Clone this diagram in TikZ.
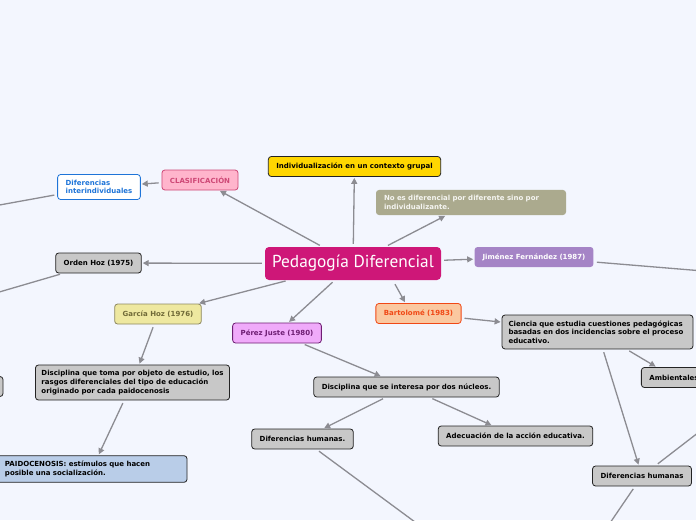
\documentclass[tikz,border=0pt]{standalone}
\usepackage{fontspec}
\setmainfont{DejaVu Sans}
\newfontfamily\titlefont{PT Sans}
\usetikzlibrary{arrows.meta, calc}
\definecolor{mapbg}{RGB}{243,246,254}
\definecolor{mapmag}{RGB}{206,23,120}
\definecolor{mapgray}{RGB}{200,200,200}
\definecolor{mapline}{RGB}{35,35,35}
\definecolor{maparr}{RGB}{140,140,146}
\definecolor{mapyel}{RGB}{255,214,0}
\definecolor{mapolive}{RGB}{171,170,142}
\definecolor{mappurple}{RGB}{165,132,198}
\definecolor{mappink}{RGB}{255,181,204}
\definecolor{mappinkdk}{RGB}{206,72,118}
\definecolor{mapblue}{RGB}{30,116,216}
\definecolor{mapsand}{RGB}{238,232,160}
\definecolor{mapsanddk}{RGB}{112,106,56}
\definecolor{mapviolet}{RGB}{240,170,250}
\definecolor{mapvioletdk}{RGB}{110,30,115}
\definecolor{mappeach}{RGB}{250,200,160}
\definecolor{maporange}{RGB}{240,72,22}
\definecolor{mapsky}{RGB}{185,205,232}
\tikzset{
  bx/.style={rounded corners=3pt, inner xsep=8pt, inner ysep=5.5pt,
             minimum height=20pt, line width=0.8pt, align=left,
             font=\bfseries\fontsize{7}{8.6}\selectfont},
  bxG/.style={bx, draw=mapline, fill=mapgray},
  bxT/.style={rounded corners=4pt, fill=mapmag, text=white,
              minimum width=176pt, minimum height=33pt, inner sep=0pt,
              font=\titlefont\fontsize{17.3}{20}\selectfont},
  arr/.style={-{Triangle[length=6pt, width=6pt]}, draw=maparr,
              line width=1.3pt, shorten <=3pt, shorten >=1pt},
  tail/.style={draw=maparr, line width=1.3pt, shorten <=3pt},
}
\begin{document}
\begin{tikzpicture}[x=1pt, y=-1pt]
  \useasboundingbox (0,0) rectangle (696,520);
  \clip (0,0) rectangle (696,520);
  \fill[mapbg] (0,0) rectangle (696,520);

  % central topic
  \node[bxT] (ctr) at (353,263.5) {Pedagogía Diferencial};

  % first ring
  \node[bxG, fill=mapyel] (indiv) at (354.5,166.5) {Individualización en un contexto grupal};
  \node[bx, fill=mapolive, text=white!88!mapolive, text width=174pt] (noes) at (471,202.5)
       {No es diferencial por diferente sino por\\individualizante.};
  \node[bx, fill=mappurple, text=white] (jim) at (534,257) {Jiménez Fernández (1987)};
  \node[bx, draw=mappinkdk, fill=mappink, text=mappinkdk] (clas) at (200,180) {CLASIFICACIÓN};
  \node[bx, draw=mapblue, fill=white, text=mapblue] (inter) at (99,187) {Diferencias\\interindividuales};
  \node[bxG] (orden) at (98.5,263) {Orden Hoz (1975)};
  \node[bx, draw=mapsanddk!80, fill=mapsand, text=mapsanddk] (garcia) at (158,314) {García Hoz (1976)};
  \node[bx, draw=mapvioletdk, fill=mapviolet, text=mapvioletdk] (perez) at (277,333) {Pérez Juste (1980)};
  \node[bx, draw=maporange, fill=mappeach, text=maporange] (bart) at (418.5,313.5) {Bartolomé (1983)};

  % second ring
  \node[bxG, text width=178pt, inner xsep=6.5pt] (ciencia) at (597.5,332)
       {Ciencia que estudia cuestiones pedagógicas\\basadas en dos incidencias sobre el proceso\\educativo.};
  \node[bxG] (amb) at (674,377.5) {Ambientales};
  \node[bxG, inner xsep=6pt] (toma) at (132.5,382.5)
       {Disciplina que toma por objeto de estudio, los\\rasgos diferenciales del tipo de educación\\originado por cada paidocenosis};
  \node[bxG, fill=mapsky, text width=174pt] (paido) at (92,469)
       {PAIDOCENOSIS: estímulos que hacen\\posible una socialización.};
  \node[bxG] (nucleos) at (406.5,387) {Disciplina que se interesa por dos núcleos.};
  \node[bxG] (difh) at (302.5,439) {Diferencias humanas.};
  \node[bxG] (adec) at (515.5,436) {Adecuación de la acción educativa.};
  \node[bxG] (difr) at (642,476) {Diferencias humanas};
  \node[bxG, minimum width=40pt] (cut) at (-17,386.5) {};

  % branches leaving the page
  \coordinate (offA) at (-100,223);
  \coordinate (offB) at (-100,321);
  \coordinate (offC) at (800,279);
  \coordinate (offD) at (760,385);
  \coordinate (offE) at (580,567);
  \coordinate (offF) at (480,570);

  % connectors
  \draw[arr] (ctr) -- (clas);
  \draw[arr] (ctr) -- (indiv);
  \draw[arr] (ctr) -- (noes);
  \draw[arr] (ctr) -- (jim);
  \draw[arr] (ctr) -- (orden);
  \draw[arr] (ctr) -- (garcia);
  \draw[arr] (ctr) -- (perez);
  \draw[arr, shorten <=0pt] ($(ctr.south)+(42,4)$) -- ($(bart.north)+(-13,0)$);
  \draw[arr] (clas) -- (inter);
  \draw[arr] (bart) -- (ciencia);
  \draw[arr] (ciencia) -- (amb);
  \draw[arr] (ciencia) -- (difr);
  \draw[arr] (garcia) -- (toma);
  \draw[arr] (toma) -- (paido);
  \draw[arr] (perez) -- (nucleos);
  \draw[arr] (nucleos) -- (difh);
  \draw[arr] (nucleos) -- (adec);
  \draw[tail] (inter) -- (offA);
  \draw[tail] (orden) -- (offB);
  \draw[tail] (jim) -- (offC);
  \draw[tail] (difr) -- (offD);
  \draw[tail] (difr) -- (offE);
  \draw[tail] (difh) -- (offF);
\end{tikzpicture}
\end{document}
